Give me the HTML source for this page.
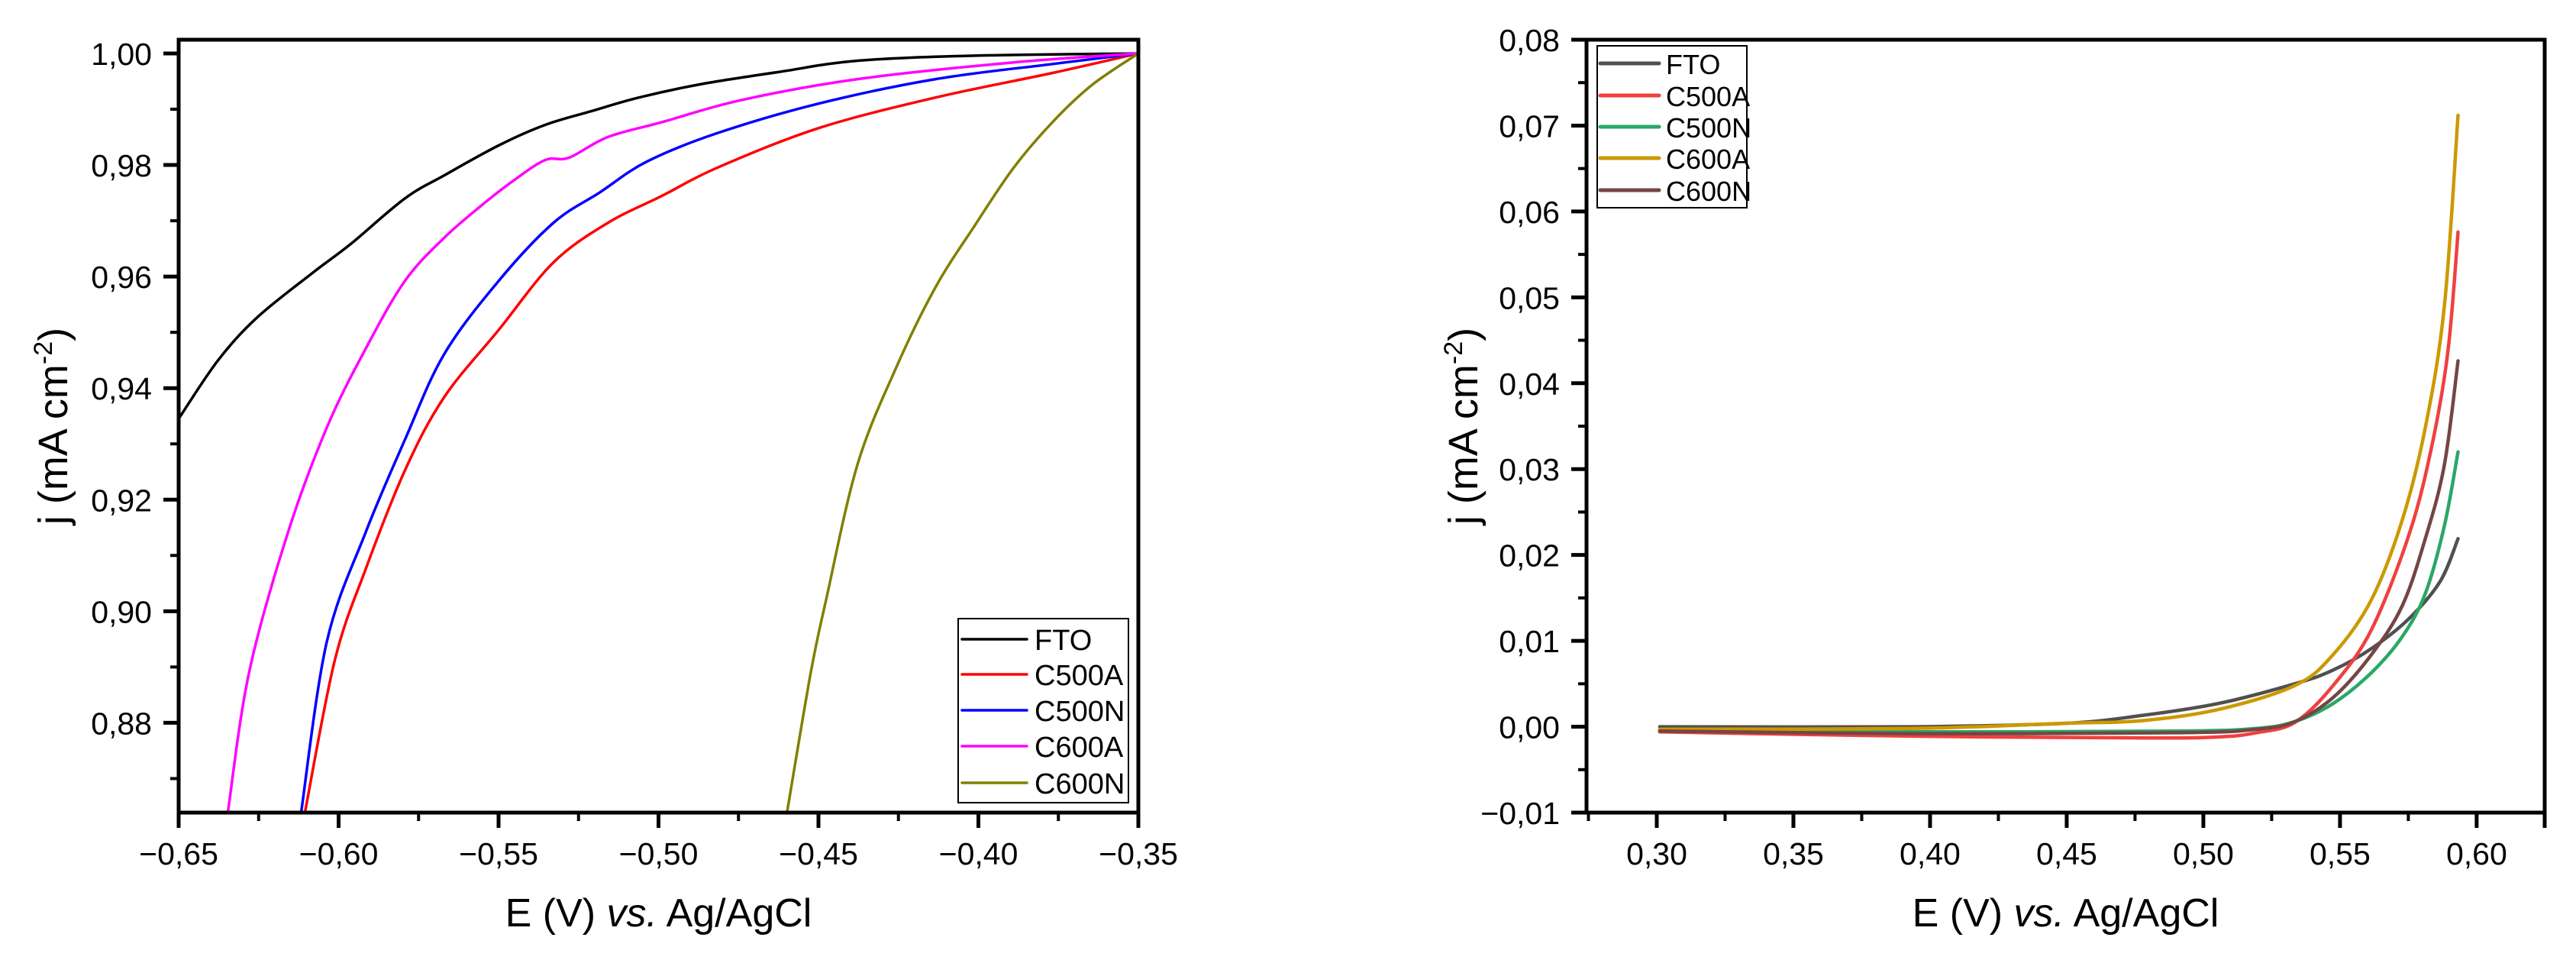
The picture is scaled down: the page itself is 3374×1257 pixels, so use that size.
<!DOCTYPE html>
<html><head><meta charset="utf-8"><style>
html,body{margin:0;padding:0;background:#fff}
svg{display:block}
text{font-family:"Liberation Sans",Arial,sans-serif;fill:#000}
</style></head><body>
<svg id="chart" width="3374" height="1257" viewBox="0 0 3374 1257" xmlns="http://www.w3.org/2000/svg">
<g id="left"></g>
<g id="right"></g>
</svg>
<script>
// ---- Left chart data ----
const leftSeriesNames = ["FTO","C500A","C500N","C600A","C600N"];
const leftColors = ["#000000","#ff0000","#0000ff","#ff00ff","#808000"];
const leftFTO_x = [-0.65,-0.6378,-0.6256,-0.6085,-0.5963,-0.5793,-0.5671,-0.55,-0.5354,-0.5207,-0.5061,-0.4866,-0.4622,-0.4378,-0.4012,-0.35];
const leftFTO_y = [0.9345,0.9449,0.9526,0.9605,0.9658,0.9740,0.9781,0.9835,0.9872,0.9897,0.9921,0.9945,0.9967,0.9987,0.9996,1.0];
const leftC500A_x = [-0.6105,-0.6012,-0.5915,-0.5793,-0.5671,-0.55,-0.5329,-0.5159,-0.4988,-0.4817,-0.45,-0.4134,-0.3768,-0.35];
const leftC500A_y = [0.864,0.8912,0.9076,0.9252,0.9383,0.9504,0.9625,0.9696,0.9745,0.9795,0.9866,0.9921,0.9965,1.0];
const leftC500N_x = [-0.6117,-0.6037,-0.5915,-0.5793,-0.5671,-0.55,-0.5329,-0.5183,-0.5037,-0.4817,-0.45,-0.4134,-0.3768,-0.35];
const leftC500N_y = [0.864,0.8945,0.9142,0.9307,0.946,0.9592,0.9696,0.9751,0.9806,0.9857,0.991,0.9954,0.9981,1.0];
const leftC600A_x = [-0.6346,-0.628,-0.6159,-0.6037,-0.5915,-0.5793,-0.5671,-0.555,-0.5451,-0.5354,-0.528,-0.5159,-0.4988,-0.4744,-0.4378,-0.389,-0.35];
const leftC600A_y = [0.864,0.889,0.914,0.9329,0.9471,0.9592,0.9669,0.9729,0.9773,0.9809,0.9813,0.985,0.9877,0.9916,0.9954,0.9984,1.0];
const leftC600N_x = [-0.4598,-0.4524,-0.4476,-0.4378,-0.4256,-0.4134,-0.4012,-0.389,-0.3768,-0.3646,-0.35];
const leftC600N_y = [0.864,0.889,0.9021,0.9263,0.9438,0.9581,0.9691,0.9795,0.9877,0.9943,1.0];
const leftXTicks = [-0.65,-0.60,-0.55,-0.50,-0.45,-0.40,-0.35];
const leftXTickLabels = ["\u22120,65","\u22120,60","\u22120,55","\u22120,50","\u22120,45","\u22120,40","\u22120,35"];
const leftYTicks = [0.88,0.90,0.92,0.94,0.96,0.98,1.00];
const leftYTickLabels = ["0,88","0,90","0,92","0,94","0,96","0,98","1,00"];

// ---- Right chart data ----
const rightSeriesNames = ["FTO","C500A","C500N","C600A","C600N"];
const rightColors = ["#505050","#f0403f","#2aa766","#cc9900","#754545"];
const rightFTO_x = [0.3011,0.3932,0.4493,0.4773,0.5054,0.5335,0.5475,0.5615,0.5756,0.5868,0.5932];
const rightFTO_y = [0.0,0.0,0.0004,0.0013,0.0027,0.005,0.0066,0.0091,0.0127,0.017,0.0219];
const rightC500A_x = [0.3011,0.3932,0.4773,0.5054,0.5194,0.5335,0.5475,0.5615,0.5756,0.584,0.5896,0.5932];
const rightC500A_y = [-0.0006,-0.0011,-0.0013,-0.0012,-0.0007,0.0005,0.0048,0.0113,0.0227,0.0333,0.044,0.0576];
const rightC500N_x = [0.3011,0.3932,0.4914,0.5194,0.5335,0.5475,0.5615,0.5728,0.5812,0.5882,0.5932];
const rightC500N_y = [-0.0004,-0.0006,-0.0005,-0.0002,0.0006,0.0027,0.0063,0.0105,0.0155,0.0234,0.032];
const rightC600A_x = [0.3011,0.3932,0.4493,0.4773,0.5054,0.5335,0.5475,0.5615,0.5728,0.5812,0.5882,0.5932];
const rightC600A_y = [-0.0003,-0.0002,0.0004,0.0007,0.002,0.0048,0.0084,0.0148,0.0241,0.0348,0.049,0.0712];
const rightC600N_x = [0.3011,0.3932,0.4914,0.5194,0.5335,0.5475,0.5615,0.5728,0.5812,0.5882,0.5932];
const rightC600N_y = [-0.0005,-0.0008,-0.0007,-0.0003,0.0006,0.0034,0.0084,0.0141,0.0219,0.0305,0.0426];
const rightXTicks = [0.30,0.35,0.40,0.45,0.50,0.55,0.60];
const rightXTickLabels = ["0,30","0,35","0,40","0,45","0,50","0,55","0,60"];
const rightYTicks = [-0.01,0.00,0.01,0.02,0.03,0.04,0.05,0.06,0.07,0.08];
const rightYTickLabels = ["\u22120,01","0,00","0,01","0,02","0,03","0,04","0,05","0,06","0,07","0,08"];

const NS = "http://www.w3.org/2000/svg";
function mk(parent, tag, attrs){
  const e = document.createElementNS(NS, tag);
  for (const k in attrs) e.setAttribute(k, attrs[k]);
  parent.appendChild(e);
  return e;
}
function smoothPath(pts){
  let d = "M" + pts[0][0].toFixed(1) + "," + pts[0][1].toFixed(1);
  for (let i = 0; i < pts.length - 1; i++){
    const p0 = pts[i-1] || pts[i], p1 = pts[i], p2 = pts[i+1], p3 = pts[i+2] || p2;
    const c1 = [p1[0] + (p2[0]-p0[0])/6, p1[1] + (p2[1]-p0[1])/6];
    const c2 = [p2[0] - (p3[0]-p1[0])/6, p2[1] - (p3[1]-p1[1])/6];
    d += " C" + c1[0].toFixed(1) + "," + c1[1].toFixed(1) + " " + c2[0].toFixed(1) + "," + c2[1].toFixed(1) + " " + p2[0].toFixed(1) + "," + p2[1].toFixed(1);
  }
  return d;
}

function drawChart(g, cfg){
  const sx = v => cfg.x0 + (v - cfg.xmin) / (cfg.xmax - cfg.xmin) * (cfg.x1 - cfg.x0);
  const sy = v => cfg.y1 - (v - cfg.ymin) / (cfg.ymax - cfg.ymin) * (cfg.y1 - cfg.y0);
  const clipId = cfg.id + "-clip";
  const defs = mk(g, "defs", {});
  const cp = mk(defs, "clipPath", {id: clipId});
  mk(cp, "rect", {x: cfg.x0, y: cfg.y0, width: cfg.x1 - cfg.x0, height: cfg.y1 - cfg.y0});

  const sg = mk(g, "g", {"clip-path": "url(#" + clipId + ")"});
  cfg.series.forEach((s, i) => {
    const pts = s.x.map((xv, j) => [sx(xv), sy(s.y[j])]);
    const p = mk(sg, "path", {d: smoothPath(pts), fill: "none", stroke: cfg.colors[i], "stroke-width": cfg.lw, "stroke-linejoin": "round", "stroke-linecap": "round"});
    
    
  });

  const fr = mk(g, "rect", {x: cfg.x0, y: cfg.y0, width: cfg.x1 - cfg.x0, height: cfg.y1 - cfg.y0, fill: "none", stroke: "#000", "stroke-width": 5});
  
  

  const xa = mk(g, "g", {});
  
  
  cfg.xTicks.forEach((t, i) => {
    const x = sx(t);
    mk(xa, "line", {x1: x, x2: x, y1: cfg.y1, y2: cfg.y1 + 20, stroke: "#000", "stroke-width": 5});
    const tx = mk(xa, "text", {x: x, y: cfg.y1 + 68, "font-size": 41, "text-anchor": "middle"});
    tx.textContent = cfg.xLabels[i];
    
    
    if (i < cfg.xTicks.length - 1){
      const xm = sx((t + cfg.xTicks[i+1]) / 2);
      mk(xa, "line", {x1: xm, x2: xm, y1: cfg.y1, y2: cfg.y1 + 11, stroke: "#000", "stroke-width": 4});
    }
  });
  if (cfg.xExtraMinor) cfg.xExtraMinor.forEach(v => {
    const xm = sx(v);
    mk(xa, "line", {x1: xm, x2: xm, y1: cfg.y1, y2: cfg.y1 + 11, stroke: "#000", "stroke-width": 4});
  });
  mk(xa, "line", {x1: cfg.x1, x2: cfg.x1, y1: cfg.y1, y2: cfg.y1 + 20, stroke: "#000", "stroke-width": 5});

  const ya = mk(g, "g", {});
  
  
  cfg.yTicks.forEach((t, i) => {
    const y = sy(t);
    mk(ya, "line", {x1: cfg.x0 - 20, x2: cfg.x0, y1: y, y2: y, stroke: "#000", "stroke-width": 5});
    const tx = mk(ya, "text", {x: cfg.x0 - 35, y: y + 15, "font-size": 41, "text-anchor": "end"});
    tx.textContent = cfg.yLabels[i];
    
    
    if (i < cfg.yTicks.length - 1){
      const ym = sy((t + cfg.yTicks[i+1]) / 2);
      mk(ya, "line", {x1: cfg.x0 - 11, x2: cfg.x0, y1: ym, y2: ym, stroke: "#000", "stroke-width": 4});
    }
  });
  if (cfg.yExtraMinor) cfg.yExtraMinor.forEach(v => {
    const ym = sy(v);
    mk(ya, "line", {x1: cfg.x0 - 11, x2: cfg.x0, y1: ym, y2: ym, stroke: "#000", "stroke-width": 4});
  });

  const xt = mk(g, "text", {x: (cfg.x0 + cfg.x1) / 2, y: 1213, "font-size": 52, "text-anchor": "middle"});
  xt.innerHTML = 'E (V) <tspan font-style="italic">vs.</tspan> Ag/AgCl';
  
  
  const yt = mk(g, "text", {x: 0, y: 0, "font-size": 54, "text-anchor": "middle", transform: "translate(" + cfg.yTitleX + "," + (cfg.y0 + cfg.y1) / 2 + ") rotate(-90)"});
  yt.innerHTML = 'j (mA cm<tspan font-size="34" dy="-20">-2</tspan><tspan dy="20">)</tspan>';
  
  

  const L = cfg.legend;
  const lg = mk(g, "g", {});
  
  
  mk(lg, "rect", {x: L.x, y: L.y, width: L.w, height: L.h, fill: "#fff", stroke: "#000", "stroke-width": 2});
  cfg.names.forEach((n, i) => {
    const y = L.ys[i];
    const e = mk(lg, "g", {});
    
    
    mk(e, "line", {x1: L.lx0, x2: L.lx1, y1: y, y2: y, stroke: cfg.colors[i], "stroke-width": L.lw, "stroke-linecap": "round"});
    const t = mk(e, "text", {x: L.tx, y: y + 14, "font-size": L.fs});
    t.textContent = n;
  });
}

const leftCfg = {
  id: "left", x0: 234, x1: 1491, y0: 52, y1: 1064,
  xmin: -0.65, xmax: -0.35, ymin: 0.8639, ymax: 1.00246,
  xTicks: leftXTicks, xLabels: leftXTickLabels, yTicks: leftYTicks, yLabels: leftYTickLabels,
  yExtraMinor: [0.87],
  series: [{x: leftFTO_x, y: leftFTO_y},{x: leftC500A_x, y: leftC500A_y},{x: leftC500N_x, y: leftC500N_y},{x: leftC600A_x, y: leftC600A_y},{x: leftC600N_x, y: leftC600N_y}],
  names: leftSeriesNames, colors: leftColors, lw: 3.5, yTitleX: 88,
  legend: {x: 1255, y: 810, w: 223, h: 241, ys: [837,883,930,977,1025], lx0: 1260, lx1: 1345, tx: 1355, fs: 38, lw: 3.5}
};
const rightCfg = {
  id: "right", x0: 2078, x1: 3333, y0: 52, y1: 1064,
  xmin: 0.2743, xmax: 0.6249, ymin: -0.01, ymax: 0.08,
  xTicks: rightXTicks, xLabels: rightXTickLabels, yTicks: rightYTicks, yLabels: rightYTickLabels,
  xExtraMinor: [0.275, 0.625],
  series: [{x: rightFTO_x, y: rightFTO_y},{x: rightC500A_x, y: rightC500A_y},{x: rightC500N_x, y: rightC500N_y},{x: rightC600A_x, y: rightC600A_y},{x: rightC600N_x, y: rightC600N_y}],
  names: rightSeriesNames, colors: rightColors, lw: 4.5, yTitleX: 1935,
  legend: {x: 2092, y: 60, w: 196, h: 212, ys: [83,125,166,207,249], lx0: 2096, lx1: 2173, tx: 2182, fs: 36, lw: 5}
};
drawChart(document.getElementById("left"), leftCfg);
drawChart(document.getElementById("right"), rightCfg);
</script>
</body></html>
